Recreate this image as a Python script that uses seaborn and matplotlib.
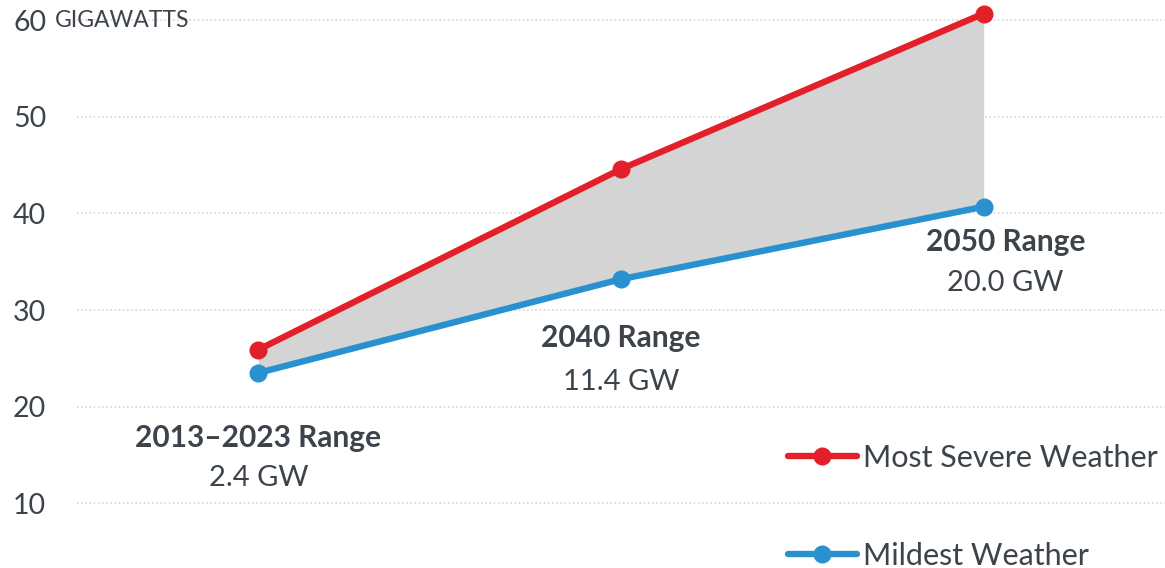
import matplotlib
matplotlib.use("Agg")
import matplotlib.pyplot as plt
from matplotlib.lines import Line2D
import seaborn as sns
import pandas as pd

# Peak demand scenarios (gigawatts)
periods = ["2013–2023", "2040", "2050"]
severe = [25.9, 44.6, 60.7]
mildest = [23.5, 33.2, 40.7]
range_titles = ["2013–2023 Range", "2040 Range", "2050 Range"]
range_values = ["2.4 GW", "11.4 GW", "20.0 GW"]
series_names = ["Most Severe Weather", "Mildest Weather"]
y_ticks = [10, 20, 30, 40, 50, 60]

RED = "#e3202a"
BLUE = "#2a91d1"
FILL = "#d4d4d4"
TEXT = "#3c434b"
GRID = "#d5d5d5"

sns.set_theme(style="white")
plt.rcParams["font.family"] = ["Lato", "DejaVu Sans"]

fig = plt.figure(figsize=(11.65, 5.68), dpi=100)
ax = fig.add_axes([77 / 1165, 0.0, 1 - 77 / 1165, 1.0])

xs = list(range(len(periods)))
df = pd.DataFrame({
    "x": xs * 2,
    "gw": severe + mildest,
    "series": [series_names[0]] * 3 + [series_names[1]] * 3,
})

ax.fill_between(xs, mildest, severe, color=FILL, linewidth=0, zorder=1)

sns.lineplot(data=df, x="x", y="gw", hue="series",
             palette={series_names[0]: RED, series_names[1]: BLUE},
             marker="o", markersize=13, markeredgewidth=0,
             linewidth=4.6, ax=ax, legend=False, zorder=3)

ax.set_xlim(-0.5, 2.5)
ax.set_ylim(3.3, 62.1)
ax.set_xticks([])
ax.set_yticks(y_ticks)
ax.set_yticklabels([str(t) for t in y_ticks])
ax.set_xlabel("")
ax.set_ylabel("")
for s in ax.spines.values():
    s.set_visible(False)
ax.yaxis.grid(True, linestyle=(0, (1, 1.5)), color=GRID, linewidth=1.2, zorder=0)
ax.set_axisbelow(True)
ax.tick_params(axis="y", length=0, pad=46, labelsize=20.5, labelcolor=TEXT)
for lbl in ax.get_yticklabels():
    lbl.set_ha("left")

ax.annotate("GIGAWATTS", xy=(55 / 1165, 60), xycoords=("figure fraction", "data"),
            ha="left", va="center", fontsize=16.5, color=TEXT)

# Range annotations under each pair of points
label_x = [0, 1, 2.06]
title_y = [16.8, 27.1, 37.0]
value_y = [12.6, 22.6, 32.8]
for i in range(len(periods)):
    ax.text(label_x[i], title_y[i], range_titles[i], ha="center", va="center",
            fontsize=21.5, fontweight="bold", color=TEXT)
    ax.text(label_x[i], value_y[i], range_values[i], ha="center", va="center",
            fontsize=21, color=TEXT)

handles = [
    Line2D([], [], color=RED, linewidth=4.6, marker="o", markersize=13, markeredgewidth=0),
    Line2D([], [], color=BLUE, linewidth=4.6, marker="o", markersize=13, markeredgewidth=0),
]
ax.legend(handles, series_names, loc="center left", bbox_to_anchor=(788 / 1165, 1 - 507 / 568),
          bbox_transform=fig.transFigure, frameon=False, fontsize=22,
          handlelength=2.25, handletextpad=0.2, labelspacing=2.3,
          borderpad=0, borderaxespad=0, labelcolor=TEXT)

fig.savefig("out.png", dpi=100)
